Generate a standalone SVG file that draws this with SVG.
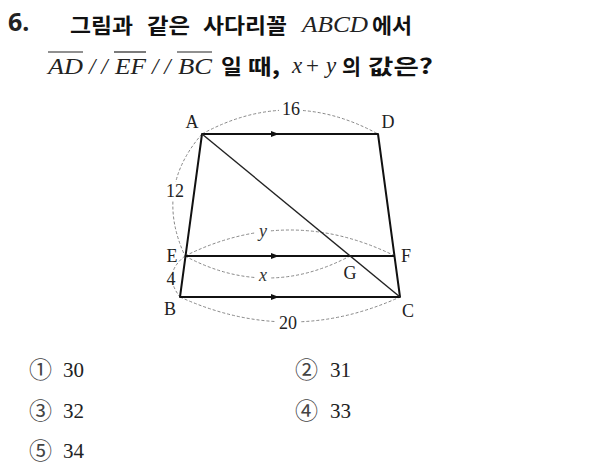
<svg xmlns="http://www.w3.org/2000/svg" width="598" height="473" viewBox="0 0 598 473">
<style>
.kr{font-family:"Noto Sans CJK KR","Noto Sans",sans-serif;font-weight:bold;font-size:21px;fill:#111}
.mi{font-family:"Liberation Serif","DejaVu Serif",serif;font-style:italic;font-size:23px;fill:#222}
.rm{font-family:"Liberation Serif","DejaVu Serif",serif;font-size:23px;fill:#222}
.lb{font-family:"Liberation Serif","DejaVu Serif",serif;font-size:18px;fill:#222;text-anchor:middle}
.lbi{font-family:"Liberation Serif","DejaVu Serif",serif;font-style:italic;font-size:18px;fill:#333;text-anchor:middle}
.opt{font-family:"Liberation Serif","DejaVu Serif",serif;font-size:21px;fill:#222}
.circ{font-family:"Noto Sans CJK KR","DejaVu Sans",sans-serif;font-size:23px;fill:#444}
.edge{stroke:#111;stroke-width:2;fill:none;stroke-linejoin:round}
.diag{stroke:#222;stroke-width:1.4;fill:none}
.dash{stroke:#888;stroke-width:1;stroke-dasharray:3 2;fill:none}
.bg{fill:#fff}
</style>
<defs>
<path id="arr" d="M-8,-3 L0,0 L-8,3 Z" fill="#111"/>
</defs>

<g id="title">
<text x="8" y="31" font-family="'Noto Sans','DejaVu Sans',sans-serif" font-weight="bold" font-size="25" fill="#222">6.</text>
<text class="kr" x="70" y="33" textLength="63" lengthAdjust="spacingAndGlyphs">그림과</text>
<text class="kr" x="147" y="33" textLength="43" lengthAdjust="spacingAndGlyphs">같은</text>
<text class="kr" x="203" y="33" textLength="84" lengthAdjust="spacingAndGlyphs">사다리꼴</text>
<text class="mi" x="302" y="32" textLength="66" lengthAdjust="spacingAndGlyphs">ABCD</text>
<text class="kr" x="372" y="33" textLength="40" lengthAdjust="spacingAndGlyphs">에서</text>

<text class="mi" x="48" y="74" textLength="35" lengthAdjust="spacingAndGlyphs">AD</text>
<line x1="48" y1="52" x2="83" y2="52" stroke="#222" stroke-width="1.2"/>
<text class="mi" x="89" y="74">/ /</text>
<text class="mi" x="115" y="74" textLength="31" lengthAdjust="spacingAndGlyphs">EF</text>
<line x1="114" y1="52" x2="146" y2="52" stroke="#222" stroke-width="1.2"/>
<text class="mi" x="152" y="74">/ /</text>
<text class="mi" x="178" y="74" textLength="34" lengthAdjust="spacingAndGlyphs">BC</text>
<line x1="177" y1="52" x2="212" y2="52" stroke="#222" stroke-width="1.2"/>
<text class="kr" x="221" y="74" textLength="21" lengthAdjust="spacingAndGlyphs">일</text>
<text class="kr" x="248" y="74" textLength="32" lengthAdjust="spacingAndGlyphs">때,</text>
<text class="mi" x="292" y="73">x</text>
<text class="rm" x="306" y="73">+</text>
<text class="mi" x="326" y="73">y</text>
<text class="kr" x="342" y="74" textLength="19" lengthAdjust="spacingAndGlyphs">의</text>
<text class="kr" x="368" y="74" textLength="65" lengthAdjust="spacingAndGlyphs">값은?</text>
</g>

<g id="connectors">
<path class="dash" d="M202,134 Q290,86 378,134"/>
<path class="dash" d="M180,297 Q290,347 400,297"/>
<path class="dash" d="M202,134 Q154,189 185,256"/>
<path class="dash" d="M185,256 Q162,274 180,297"/>
<path class="dash" d="M185,256 Q290,204 395,256"/>
<path class="dash" d="M185,256 Q267,300 350,256"/>
</g>

<g id="trapezoid">
<path class="edge" d="M202,134 L378,134 L400,297 L180,297 Z"/>
<line class="edge" x1="185" y1="256" x2="395" y2="256"/>
<line class="diag" x1="202" y1="134" x2="400" y2="297"/>
<use href="#arr" x="279" y="134"/>
<use href="#arr" x="279" y="256"/>
<use href="#arr" x="279" y="297"/>
</g>

<g id="labels">
<rect class="bg" x="279" y="100" width="24" height="16"/>
<text class="lb" x="291" y="115">16</text>
<rect class="bg" x="275" y="314" width="26" height="16"/>
<text class="lb" x="288" y="329">20</text>
<rect class="bg" x="165" y="182" width="20" height="18"/>
<text class="lb" x="175" y="197">12</text>
<text class="lb" x="171" y="285">4</text>
<rect class="bg" x="256" y="224" width="14" height="14"/>
<text class="lbi" x="263" y="237">y</text>
<rect class="bg" x="256" y="269" width="14" height="14"/>
<text class="lbi" x="263" y="281">x</text>
<text class="lb" x="192" y="128">A</text>
<text class="lb" x="388" y="128">D</text>
<text class="lb" x="172" y="262">E</text>
<text class="lb" x="406" y="262">F</text>
<text class="lb" x="350" y="279">G</text>
<text class="lb" x="170" y="315">B</text>
<text class="lb" x="408" y="317">C</text>
</g>

<g id="options">
<text class="circ" x="29" y="378">①</text>
<text class="opt" x="63" y="377">30</text>
<text class="circ" x="295" y="378">②</text>
<text class="opt" x="330" y="377">31</text>
<text class="circ" x="29" y="419">③</text>
<text class="opt" x="63" y="418">32</text>
<text class="circ" x="295" y="419">④</text>
<text class="opt" x="330" y="418">33</text>
<text class="circ" x="29" y="459">⑤</text>
<text class="opt" x="63" y="458">34</text>
</g>
</svg>
